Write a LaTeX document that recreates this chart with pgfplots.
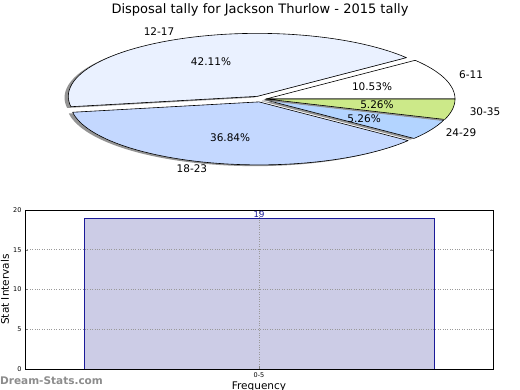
\documentclass[border=0pt]{standalone}
\usepackage{pgfplots}
\pgfplotsset{compat=1.18}
\usepackage{fontspec}
\setmainfont{DejaVu Sans}
\definecolor{cA}{HTML}{FFFFFF}
\definecolor{cB}{HTML}{EAF1FF}
\definecolor{cC}{HTML}{C4D8FF}
\definecolor{cD}{HTML}{B3D4FF}
\definecolor{cE}{HTML}{CCE989}
\definecolor{barfill}{HTML}{CCCCE6}
\definecolor{baredge}{HTML}{1A1A99}
% slice: start angle, end angle, dx, dy, fill colour
\newcommand{\shadowslice}[4]{%
  \addplot[fill=black!42, draw=none, domain=#1:#2, samples=60, variable=\t]
    ({#3-0.02+cos(\t)},{#4-0.02+sin(\t)}) -- (axis cs:{#3-0.02},{#4-0.02}) -- cycle;}
\newcommand{\pieslice}[5]{%
  \addplot[fill=#5, draw=black, line width=0.6pt, line join=round, domain=#1:#2, samples=60, variable=\t]
    ({#3+cos(\t)},{#4+sin(\t)}) -- (axis cs:{#3},{#4}) -- cycle;}
\newcommand{\lbl}{\fontsize{10.5}{12}\selectfont}
\begin{document}
\begin{tikzpicture}[x=1pt,y=1pt]
\useasboundingbox (0,0) rectangle (520,390);
\node[font=\fontsize{13}{15}\selectfont] at (260,380) {Disposal tally for Jackson Thurlow - 2015 tally};
% counts: 6-11:2, 12-17:8, 18-23:7, 24-29:1, 30-35:1 (total 19)
\begin{axis}[at={(266pt,291pt)}, anchor=center, x=189pt, y=63pt,
  xmin=-1.3, xmax=1.3, ymin=-1.3, ymax=1.3, hide axis, clip=false]
\shadowslice{0}{37.895}{0}{0}
\pieslice{0}{37.895}{0}{0}{cA}
\shadowslice{37.895}{189.474}{-0.046}{0.042}
\pieslice{37.895}{189.474}{-0.046}{0.042}{cB}
\shadowslice{189.474}{322.105}{-0.037}{-0.046}
\pieslice{189.474}{322.105}{-0.037}{-0.046}{cC}
\shadowslice{322.105}{341.053}{-0.006}{-0.012}
\pieslice{322.105}{341.053}{-0.006}{-0.012}{cD}
\shadowslice{341.053}{360}{0}{0}
\pieslice{341.053}{360}{0}{0}{cE}
\node[font=\lbl] at (axis cs:-0.566,1.065) {12-17};
\node[font=\lbl] at (axis cs:1.085,0.381) {6-11};
\node[font=\lbl] at (axis cs:1.159,-0.207) {30-35};
\node[font=\lbl] at (axis cs:1.032,-0.540) {24-29};
\node[font=\lbl] at (axis cs:-0.392,-1.111) {18-23};
\node[font=\lbl] at (axis cs:-0.291,0.588) {42.11\%};
\node[font=\lbl] at (axis cs:0.561,0.191) {10.53\%};
\node[font=\lbl] at (axis cs:0.587,-0.095) {5.26\%};
\node[font=\lbl] at (axis cs:0.519,-0.318) {5.26\%};
\node[font=\lbl] at (axis cs:-0.190,-0.619) {36.84\%};
\end{axis}
\begin{axis}[at={(25pt,21pt)}, anchor=south west, scale only axis,
  width=468pt, height=159pt, xmin=0, xmax=1, ymin=0, ymax=20,
  xtick={0.5}, xticklabels={0-5}, ytick={0,5,10,15,20},
  tick align=inside, major tick length=3pt,
  ticklabel style={font=\fontsize{6.5}{7}\selectfont},
  /pgf/number format/assume math mode=true,
  grid=major, grid style={dotted, black!40, line width=0.6pt},
  axis on top,
  xlabel={Frequency}, ylabel={Stat Intervals},
  label style={font=\fontsize{10.5}{12}\selectfont},
  xlabel style={at={(axis description cs:0.5,-0.113)}, anchor=center},
  ylabel style={at={(axis description cs:-0.043,0.5)}, anchor=center},
  axis line style={line width=0.8pt}]
\addplot[ybar, bar width=0.748, fill=barfill, draw=baredge, line width=0.6pt,
  nodes near coords,
  nodes near coords style={font=\fontsize{8.5}{9}\selectfont, text=baredge, inner sep=0.5pt}]
  coordinates {(0.5,19)};
\end{axis}
\node[anchor=west, font=\bfseries\fontsize{10.5}{12}\selectfont, text=black!45, inner sep=0] at (0,9) {Dream-Stats.com};
\end{tikzpicture}
\end{document}
